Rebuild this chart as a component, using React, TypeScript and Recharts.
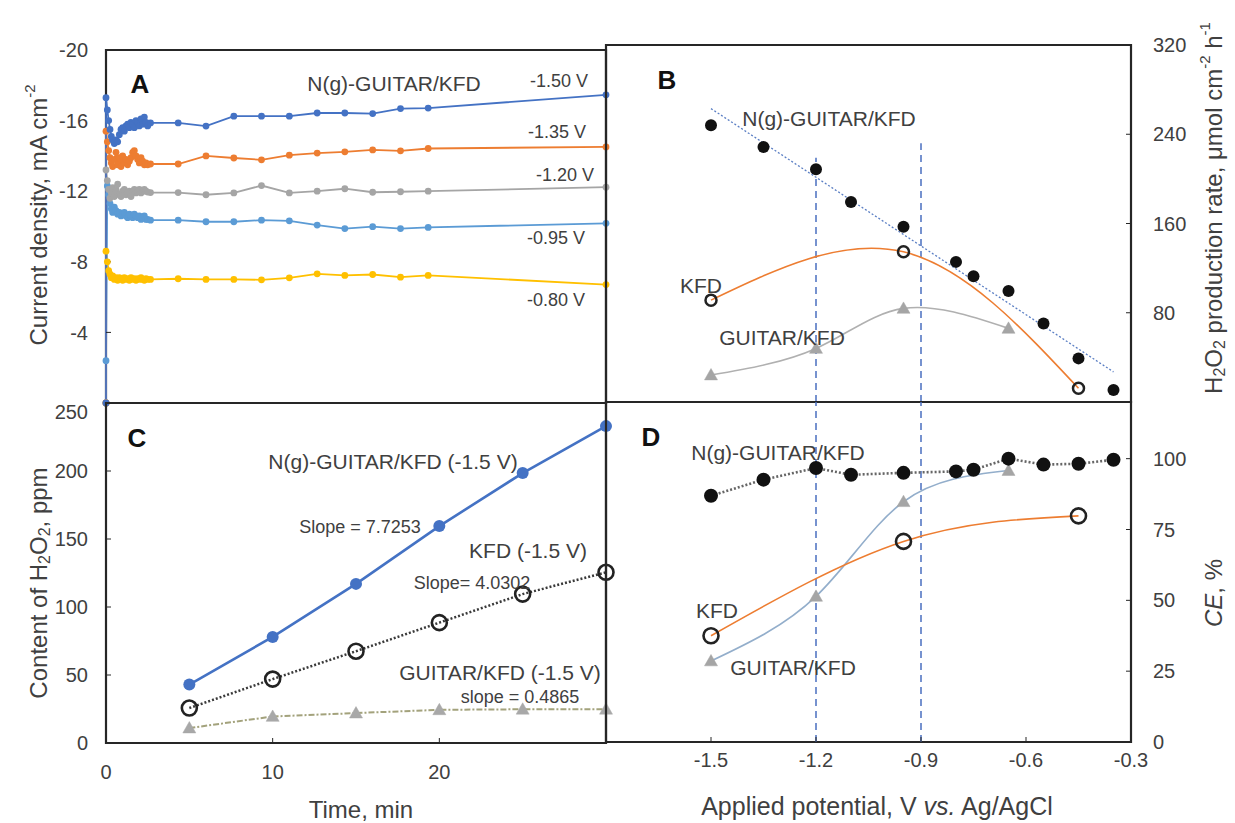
import React from 'react';
import { LineChart, Line, XAxis, YAxis, ReferenceArea, ReferenceLine } from 'recharts';

const FONT = '"Liberation Sans", Arial, Helvetica, sans-serif';
const TXT = '#404040';
const FRAME = '#262626';

// ---------- Panel A: current density vs time ----------
const timeA = [0, 0, 0.08, 0.16, 0.24, 0.32, 0.4, 0.5, 0.6, 0.7, 0.8, 0.9, 1.0, 1.1, 1.2, 1.3, 1.4, 1.5, 1.6, 1.7, 1.8, 1.9, 2.0, 2.1, 2.2, 2.3, 2.4, 2.5, 2.67,
  4.33, 6.0, 7.67, 9.33, 11.0, 12.67, 14.33, 16.0, 17.67, 19.33, 30];
const cur150 = [0, -17.3, -16.6, -16.0, -15.5, -15.1, -14.9, -14.7, -14.9, -14.8, -15.2, -15.5, -15.6, -15.4, -15.7, -15.8, -15.6, -15.9, -15.8, -15.6, -16.0, -15.9, -15.7, -16.1, -15.8, -16.2, -15.9, -15.7, -15.87,
  -15.87, -15.69, -16.25, -16.25, -16.25, -16.43, -16.43, -16.4, -16.68, -16.71, -17.46];
const cur135 = [0, -15.4, -14.8, -14.3, -13.9, -13.6, -13.4, -13.8, -14.2, -13.5, -13.9, -13.4, -14.0, -13.6, -13.8, -13.5, -13.7, -13.9, -14.2, -14.3, -14.0, -13.8, -13.6, -13.9, -13.7, -13.5, -13.6, -13.5, -13.54,
  -13.54, -14.0, -13.88, -13.78, -14.04, -14.16, -14.23, -14.34, -14.29, -14.42, -14.51];
const cur120 = [0, -13.2, -12.6, -12.1, -11.6, -11.9, -12.2, -11.7, -12.0, -12.4, -11.8, -11.7, -12.0, -12.1, -11.8, -11.9, -12.0, -11.7, -12.0, -12.1, -11.9, -12.0, -12.1, -11.9, -12.0, -12.1, -12.0, -11.95, -11.92,
  -11.92, -11.8, -11.9, -12.32, -11.9, -12.0, -12.14, -11.94, -11.97, -12.0, -12.23];
const cur095 = [0, -2.4, -12.3, -11.8, -11.3, -11.0, -10.8, -11.1, -10.9, -10.7, -10.8, -10.6, -10.7, -10.8, -10.6, -10.5, -10.7, -10.6, -10.5, -10.7, -10.6, -10.5, -10.6, -10.4, -10.5, -10.6, -10.4, -10.4, -10.36,
  -10.36, -10.27, -10.27, -10.36, -10.32, -10.08, -9.88, -9.99, -9.88, -9.95, -10.18];
const cur080 = [0, -8.6, -8.0, -7.5, -7.3, -7.1, -7.2, -7.0, -7.1, -6.95, -7.1, -7.05, -6.95, -7.1, -7.0, -7.05, -6.95, -7.1, -7.0, -7.05, -6.95, -7.05, -7.0, -7.1, -7.0, -6.95, -7.05, -7.0, -7.0,
  -7.04, -7.0, -7.0, -6.98, -7.09, -7.32, -7.23, -7.28, -7.13, -7.23, -6.71];
const ticksAy = [-20, -16, -12, -8, -4];

// ---------- Panel C: H2O2 content vs time ----------
const timeC = [5, 10, 15, 20, 25, 30];
const ppmNg = [43, 78, 117, 159.5, 198.5, 233];
const ppmKFD = [25.7, 47, 67.5, 88.5, 109.5, 125.5];
const ppmGK = [11, 19.5, 22, 24.4, 24.8, 24.8];
const ticksCy = [0, 50, 100, 150, 200, 250];
const ticksCx = [0, 10, 20];

// ---------- Panels B & D: vs applied potential ----------
const potentials = [-1.5, -1.35, -1.2, -1.1, -0.95, -0.8, -0.75, -0.65, -0.55, -0.45, -0.35];
const rateNg = [248, 228.6, 208.6, 179.3, 157, 125.6, 112.8, 99.4, 70.4, 39.1, 10.7];
const rateFit = [263, null, null, null, null, null, null, null, null, null, 27];
const rateKFD = [91.3, null, null, null, 134.6, null, null, null, null, 12.3, null];
const rateGK = [24.2, null, 48, null, 83.9, null, null, 66, null, null, null];
const ceNg = [86.9, 92.6, 96.7, 94.3, 95, 95.5, 96.1, 100, 97.9, 98.2, 99.6];
const ceKFD = [37.5, null, null, null, 70.8, null, null, null, null, 79.8, null];
const ceGK = [28.6, null, 51.4, null, 84.8, null, null, 95.8, null, null, null];
const ticksBy = [80, 160, 240, 320];
const ticksDy = [0, 25, 50, 75, 100];
const ticksV = [-1.5, -1.2, -0.9, -0.6, -0.3];
const markV = [-1.2, -0.9];
const markTopB = [219, 232];

const dataA = timeA.map((t, i) => ({ t, a: cur150[i], b: cur135[i], c: cur120[i], d: cur095[i], e: cur080[i] }));
const dataC = timeC.map((t, i) => ({ t, ng: ppmNg[i], kfd: ppmKFD[i], gk: ppmGK[i] }));
const dataBD = potentials.map((v, i) => ({
  v, rNg: rateNg[i], rFit: rateFit[i], rKFD: rateKFD[i], rGK: rateGK[i],
  cNg: ceNg[i], cKFD: ceKFD[i], cGK: ceGK[i],
}));

const tickStyle = { fontSize: 20, fill: TXT, fontFamily: FONT };

const bad = (cx: any, cy: any) => cx == null || cy == null || Number.isNaN(cx) || Number.isNaN(cy);

const triangle = (size: number, fill: string) => (p: any) => {
  const { cx, cy, index } = p;
  if (bad(cx, cy)) return <g key={`t${index}`} />;
  return (
    <polygon key={`t${index}`} points={`${cx},${cy - size} ${cx - size},${cy + size * 0.75} ${cx + size},${cy + size * 0.75}`} fill={fill} stroke={fill} strokeWidth={0.5} />
  );
};
const openCircle = (r: number, sw: number) => (p: any) => {
  const { cx, cy, index } = p;
  if (bad(cx, cy)) return <g key={`o${index}`} />;
  return <circle key={`o${index}`} cx={cx} cy={cy} r={r} fill="none" stroke="#222" strokeWidth={sw} />;
};
const solidCircle = (r: number, fill: string) => (p: any) => {
  const { cx, cy, index } = p;
  if (bad(cx, cy)) return <g key={`s${index}`} />;
  return <circle key={`s${index}`} cx={cx} cy={cy} r={r} fill={fill} stroke="none" />;
};

const seriesA = [
  { key: 'e', color: '#FFC000' },
  { key: 'd', color: '#5B9BD5' },
  { key: 'c', color: '#A5A5A5' },
  { key: 'b', color: '#ED7D31' },
  { key: 'a', color: '#4472C4' },
];

function PanelA() {
  return (
    <LineChart width={620} height={420} data={dataA} margin={{ top: 50, right: 14, bottom: 5, left: 0 }}>
      <XAxis dataKey="t" type="number" domain={[0, 30]} ticks={[10, 20]} tick={false} tickSize={-6} height={12} axisLine={false} stroke={FRAME} />
      <YAxis type="number" domain={[-20, 0]} reversed ticks={ticksAy} width={106} tickSize={-5} tickMargin={23} axisLine={false} stroke={FRAME} tick={tickStyle} />
      {seriesA.map((s) => (
        <Line key={s.key} dataKey={s.key} type="linear" stroke={s.color} strokeWidth={1.8} dot={solidCircle(3.4, s.color)} activeDot={false} isAnimationActive={false} />
      ))}
      <ReferenceArea x1={0} x2={30} y1={-20} y2={0} fill="none" fillOpacity={0} stroke={FRAME} strokeWidth={2.2} />
    </LineChart>
  );
}

function PanelC() {
  return (
    <LineChart width={620} height={423} data={dataC} margin={{ top: 3, right: 14, bottom: 20, left: 0 }}>
      <XAxis dataKey="t" type="number" domain={[0, 30]} ticks={ticksCx} height={60} tickSize={-5} tickMargin={27} axisLine={false} stroke={FRAME} tick={tickStyle} />
      <YAxis type="number" domain={[0, 250]} ticks={ticksCy} width={106} tickSize={-5} tickMargin={23} axisLine={false} stroke={FRAME} tick={tickStyle} />
      <Line dataKey="gk" type="linear" stroke="#a3a27c" strokeWidth={2} strokeDasharray="6 2 2 2" dot={triangle(6.5, '#a8a8a8')} activeDot={false} isAnimationActive={false} />
      <Line dataKey="kfd" type="linear" stroke="#3a3a3a" strokeWidth={2.5} strokeDasharray="2 2" dot={openCircle(7.5, 2.6)} activeDot={false} isAnimationActive={false} />
      <Line dataKey="ng" type="linear" stroke="#4472C4" strokeWidth={2.6} dot={solidCircle(6, '#4472C4')} activeDot={false} isAnimationActive={false} />
      <ReferenceArea x1={0} x2={30} y1={0} y2={250} fill="none" fillOpacity={0} stroke={FRAME} strokeWidth={2.2} />
    </LineChart>
  );
}

function PanelB() {
  return (
    <LineChart width={635} height={420} data={dataBD} margin={{ top: 45, right: 14, bottom: 5, left: 6 }}>
      <XAxis dataKey="v" type="number" domain={[-1.8, -0.3]} ticks={ticksV} tick={false} tickSize={-6} height={13} axisLine={false} stroke={FRAME} />
      <YAxis type="number" orientation="right" domain={[0, 320]} ticks={ticksBy} width={90} tickSize={-5} tickMargin={27} axisLine={false} stroke={FRAME} tick={tickStyle} />
      {markV.map((v, i) => (
        <ReferenceLine key={v} segment={[{ x: v, y: 0 }, { x: v, y: markTopB[i] }]} stroke="#4a6fc0" strokeWidth={1.5} strokeDasharray="7 5" />
      ))}
      <Line dataKey="rFit" type="linear" connectNulls stroke="#5b7fc4" strokeWidth={1.3} strokeDasharray="2 2" dot={false} activeDot={false} isAnimationActive={false} />
      <Line dataKey="rGK" type="natural" connectNulls stroke="#b0b0b0" strokeWidth={1.6} dot={triangle(6.5, '#a5a5a5')} activeDot={false} isAnimationActive={false} />
      <Line dataKey="rKFD" type="natural" connectNulls stroke="#ED7D31" strokeWidth={1.6} dot={openCircle(5.5, 2.5)} activeDot={false} isAnimationActive={false} />
      <Line dataKey="rNg" type="linear" stroke="none" dot={solidCircle(6, '#111')} activeDot={false} isAnimationActive={false} />
      <ReferenceArea x1={-1.8} x2={-0.3} y1={0} y2={320} fill="none" fillOpacity={0} stroke={FRAME} strokeWidth={2.2} />
    </LineChart>
  );
}

function PanelD() {
  return (
    <LineChart width={635} height={423} data={dataBD} margin={{ top: 2, right: 14, bottom: 21, left: 6 }}>
      <XAxis dataKey="v" type="number" domain={[-1.8, -0.3]} ticks={ticksV} height={60} tickSize={-5} tickMargin={16} axisLine={false} stroke={FRAME} tick={tickStyle} />
      <YAxis type="number" orientation="right" domain={[0, 120]} ticks={ticksDy} width={90} tickSize={-5} tickMargin={27} axisLine={false} stroke={FRAME} tick={tickStyle} />
      {markV.map((v) => (
        <ReferenceLine key={v} x={v} stroke="#4a6fc0" strokeWidth={1.5} strokeDasharray="7 5" />
      ))}
      <Line dataKey="cGK" type="natural" connectNulls stroke="#93aecb" strokeWidth={1.6} dot={triangle(6.5, '#a5a5a5')} activeDot={false} isAnimationActive={false} />
      <Line dataKey="cKFD" type="natural" connectNulls stroke="#ED7D31" strokeWidth={1.6} dot={openCircle(7.5, 2.6)} activeDot={false} isAnimationActive={false} />
      <Line dataKey="cNg" type="linear" stroke="#666" strokeWidth={2.6} strokeDasharray="2 2" dot={solidCircle(7, '#111')} activeDot={false} isAnimationActive={false} />
      <ReferenceArea x1={-1.8} x2={-0.3} y1={0} y2={120} fill="none" fillOpacity={0} stroke={FRAME} strokeWidth={2.2} />
    </LineChart>
  );
}

function Lbl({ x, y, size = 21, bold = false, children }: any) {
  return (
    <text x={x} y={y} textAnchor="middle" dominantBaseline="central" fontSize={size} fontWeight={bold ? 'bold' : 'normal'} fill={bold ? '#111' : TXT} fontFamily={FONT}>
      {children}
    </text>
  );
}

function Overlay() {
  return (
    <svg width={1235} height={823} style={{ position: 'absolute', left: 0, top: 0, pointerEvents: 'none' }}>
      <Lbl x={140} y={84} size={26} bold>A</Lbl>
      <Lbl x={667} y={80} size={26} bold>B</Lbl>
      <Lbl x={137} y={438} size={26} bold>C</Lbl>
      <Lbl x={651} y={437} size={26} bold>D</Lbl>

      <Lbl x={394} y={83}>N(g)-GUITAR/KFD</Lbl>
      <Lbl x={559} y={81} size={18}>-1.50 V</Lbl>
      <Lbl x={557} y={132} size={18}>-1.35 V</Lbl>
      <Lbl x={565} y={175} size={18}>-1.20 V</Lbl>
      <Lbl x={556} y={238} size={18}>-0.95 V</Lbl>
      <Lbl x={556} y={300} size={18}>-0.80 V</Lbl>

      <Lbl x={829} y={118}>N(g)-GUITAR/KFD</Lbl>
      <Lbl x={701} y={285}>KFD</Lbl>
      <Lbl x={782} y={337}>GUITAR/KFD</Lbl>

      <Lbl x={393} y={461}>N(g)-GUITAR/KFD (-1.5 V)</Lbl>
      <Lbl x={360} y={527} size={18}>Slope = 7.7253</Lbl>
      <Lbl x={528} y={550}>KFD (-1.5 V)</Lbl>
      <Lbl x={472} y={583} size={18}>Slope= 4.0302</Lbl>
      <Lbl x={500} y={672}>GUITAR/KFD (-1.5 V)</Lbl>
      <Lbl x={520} y={697} size={18}>slope = 0.4865</Lbl>

      <Lbl x={778} y={452}>N(g)-GUITAR/KFD</Lbl>
      <Lbl x={717} y={610}>KFD</Lbl>
      <Lbl x={793} y={667}>GUITAR/KFD</Lbl>

      <text transform="translate(38,215) rotate(-90)" textAnchor="middle" dominantBaseline="central" fontSize={24} fill={TXT} fontFamily={FONT}>
        Current density, mA cm<tspan dy={-9} fontSize={15}>-2</tspan>
      </text>
      <text transform="translate(38,583) rotate(-90)" textAnchor="middle" dominantBaseline="central" fontSize={24} fill={TXT} fontFamily={FONT}>
        Content of H<tspan dy={6} fontSize={16}>2</tspan><tspan dy={-6}>O</tspan><tspan dy={6} fontSize={16}>2</tspan><tspan dy={-6}>, ppm</tspan>
      </text>
      <text x={361} y={809} textAnchor="middle" dominantBaseline="central" fontSize={24} fill={TXT} fontFamily={FONT}>Time, min</text>
      <text x={877} y={806} textAnchor="middle" dominantBaseline="central" fontSize={25} fill={TXT} fontFamily={FONT}>
        Applied potential, V <tspan fontStyle="italic">vs.</tspan> Ag/AgCl
      </text>
      <text transform="translate(1213,208) rotate(-90)" textAnchor="middle" dominantBaseline="central" fontSize={24} fill={TXT} fontFamily={FONT}>
        H<tspan dy={6} fontSize={16}>2</tspan><tspan dy={-6}>O</tspan><tspan dy={6} fontSize={16}>2</tspan><tspan dy={-6}> production rate, μmol cm</tspan><tspan dy={-9} fontSize={15}>-2</tspan><tspan dy={9}> h</tspan><tspan dy={-9} fontSize={15}>-1</tspan>
      </text>
      <text transform="translate(1213,593) rotate(-90)" textAnchor="middle" dominantBaseline="central" fontSize={24} fill={TXT} fontFamily={FONT}>
        <tspan fontStyle="italic">CE</tspan>, %
      </text>
    </svg>
  );
}

export default function App() {
  return (
    <div style={{ position: 'absolute', left: 0, top: 0, width: 1235, height: 823, background: '#fff', overflow: 'hidden' }}>
      <div style={{ position: 'absolute', left: 0, top: 0 }}><PanelA /></div>
      <div style={{ position: 'absolute', left: 0, top: 400 }}><PanelC /></div>
      <div style={{ position: 'absolute', left: 600, top: 0 }}><PanelB /></div>
      <div style={{ position: 'absolute', left: 600, top: 400 }}><PanelD /></div>
      <Overlay />
    </div>
  );
}
